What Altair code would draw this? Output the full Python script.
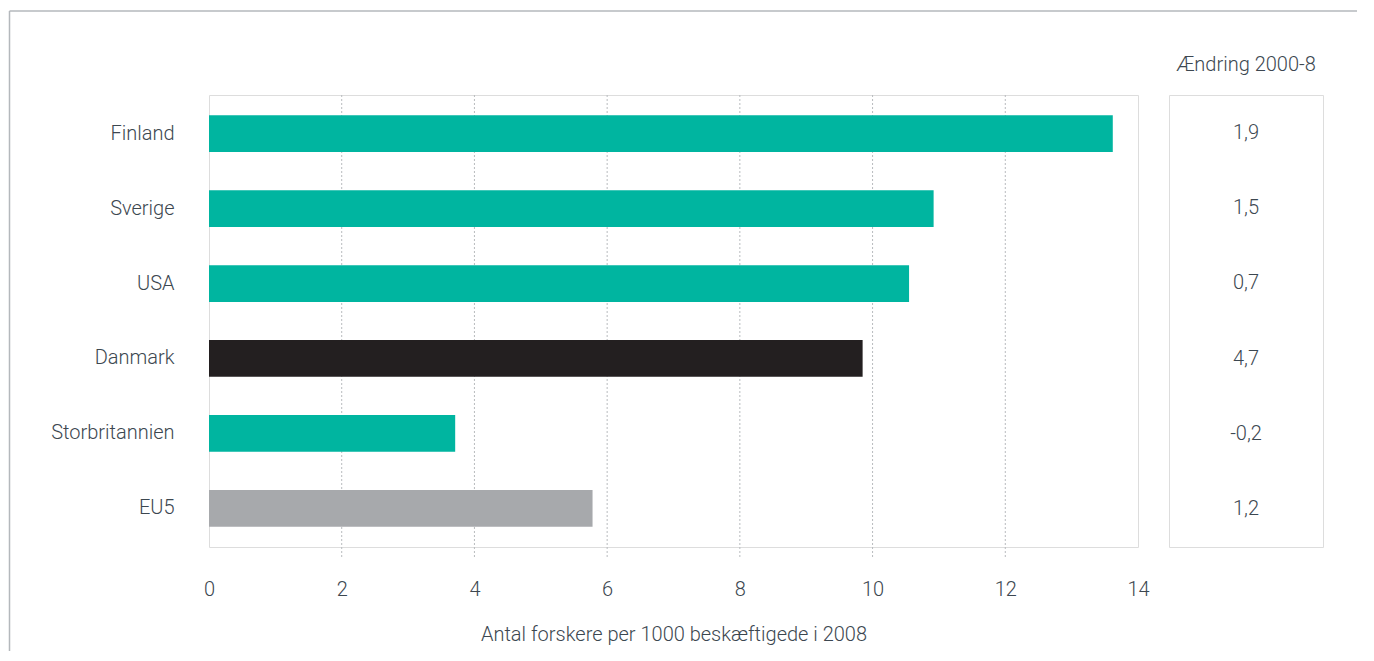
import altair as alt
import pandas as pd

countries = ["Finland", "Sverige", "USA", "Danmark", "Storbritannien", "EU5"]
researchers = [13.62, 10.92, 10.55, 9.85, 3.71, 5.78]
change_2000_8 = [1.9, 1.5, 0.7, 4.7, -0.2, 1.2]
bar_colors = ["#00b5a0", "#00b5a0", "#00b5a0", "#231f20", "#00b5a0", "#a7a9ac"]
grid_ticks = [2, 4, 6, 8, 10, 12]
axis_ticks = [0, 2, 4, 6, 8, 10, 12, 14]

df = pd.DataFrame({
    "land": countries,
    "forskere": researchers,
    "change": change_2000_8,
    "farve": bar_colors,
})
df["change_label"] = [f"{v:.1f}".replace(".", ",") for v in change_2000_8]
grid_df = pd.DataFrame({"v": grid_ticks})

FONT = "Roboto"
FS = 20
FW = 300
TXT = "#3c4750"
FRAME = "#a6aaae"

band = alt.Scale(paddingInner=0.51, paddingOuter=0.27)

y_enc = alt.Y("land:N", sort=countries, title=None, scale=band,
              axis=alt.Axis(ticks=False, domain=False, labelPadding=35,
                            labelFontSize=FS, labelColor=TXT, labelFont=FONT,
                            labelFontWeight=FW))

x_scale = alt.Scale(domain=[0, 14], nice=False)

grid = alt.Chart(grid_df).mark_rule(color="#b8bbbe", strokeDash=[2, 2], strokeWidth=1).encode(
    x=alt.X("v:Q", scale=x_scale),
    y=alt.value(0),
    y2=alt.value(462),
)

bars = alt.Chart(df).mark_bar().encode(
    x=alt.X("forskere:Q", scale=x_scale,
            title="Antal forskere per 1000 beskæftigede i 2008",
            axis=alt.Axis(values=axis_ticks, format="d", grid=False, ticks=False,
                          domain=False, labelFlush=False, labelPadding=32,
                          labelFontSize=FS, labelColor=TXT, labelFont=FONT,
                          labelFontWeight=FW, titleFont=FONT, titleFontSize=FS,
                          titleColor=TXT, titleFontWeight=FW, titlePadding=25)),
    y=y_enc,
    color=alt.Color("farve:N", scale=None, legend=None),
)

frame_data = alt.Data(values=[{"a": 1}])
frame_top = alt.Chart(frame_data).mark_rule(color="#b4b8bc", strokeWidth=1.5).encode(
    x=alt.value(-199.5), x2=alt.value(1148), y=alt.value(-84))
frame_left = alt.Chart(frame_data).mark_rule(color="#b4b8bc", strokeWidth=1.5).encode(
    x=alt.value(-199.5), y=alt.value(-84), y2=alt.value(556))

left = alt.layer(frame_top, frame_left, grid, bars).properties(width=929, height=452)

right = alt.Chart(df).mark_text(fontSize=FS, font=FONT, color=TXT, fontWeight=FW).encode(
    y=alt.Y("land:N", sort=countries, axis=None, scale=band),
    x=alt.value(77),
    text="change_label:N",
).properties(
    width=154, height=452,
    title=alt.TitleParams("Ændring 2000-8", fontSize=FS, font=FONT, color=TXT,
                          fontWeight=FW, anchor="middle", offset=20),
)

chart = alt.hconcat(left, right, spacing=31, bounds="flush").resolve_scale(y="independent").properties(
    padding={"left": 0, "top": 1, "right": 0, "bottom": 0}
).configure_view(stroke=FRAME, strokeWidth=1.5).configure(background="white")

chart.save("out.html", embed_options={"renderer": "svg", "actions": False})
